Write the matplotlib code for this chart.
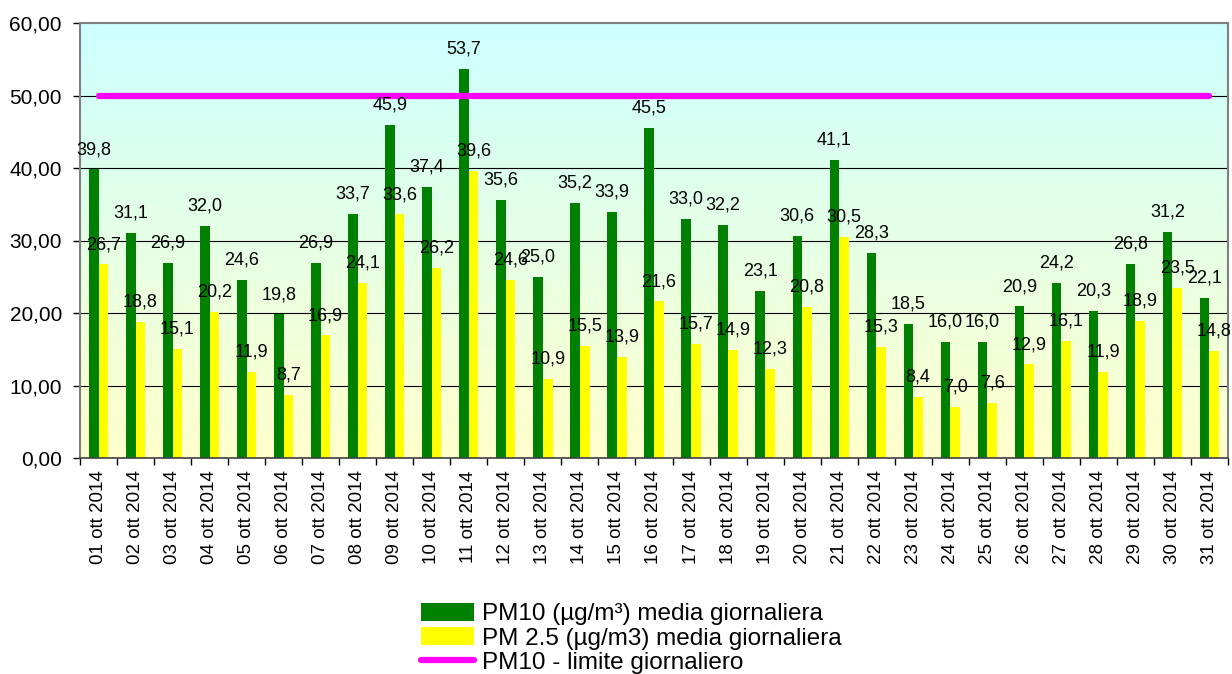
import matplotlib
matplotlib.use("Agg")
import matplotlib.pyplot as plt
import numpy as np
from matplotlib.patches import Patch
from matplotlib.lines import Line2D
from matplotlib.colors import LinearSegmentedColormap

dates = [f"{d:02d} ott 2014" for d in range(1, 32)]
pm10 = [39.8, 31.1, 26.9, 32.0, 24.6, 19.8, 26.9, 33.7, 45.9, 37.4, 53.7, 35.6, 25.0, 35.2, 33.9,
        45.5, 33.0, 32.2, 23.1, 30.6, 41.1, 28.3, 18.5, 16.0, 16.0, 20.9, 24.2, 20.3, 26.8, 31.2, 22.1]
pm25 = [26.7, 18.8, 15.1, 20.2, 11.9, 8.7, 16.9, 24.1, 33.6, 26.2, 39.6, 24.6, 10.9, 15.5, 13.9,
        21.6, 15.7, 14.9, 12.3, 20.8, 30.5, 15.3, 8.4, 7.0, 7.6, 12.9, 16.1, 11.9, 18.9, 23.5, 14.8]
limit = [50.0] * len(dates)
yticks = [0, 10, 20, 30, 40, 50, 60]

plt.rcParams['font.family'] = ['Liberation Sans', 'DejaVu Sans']

fig = plt.figure(figsize=(12.32, 6.74), dpi=100)
ax = fig.add_axes([80/1232, 1-458/674, (1228-80)/1232, (458-23)/674])

n = len(dates)
x = np.arange(n)
ax.set_xlim(-0.5, n-0.5)
ax.set_ylim(0, 60)

# gradient background
cmap = LinearSegmentedColormap.from_list("bg", ["#FFFFCC", "#CCFFFF"])
grad = np.linspace(0, 1, 256).reshape(-1, 1)
ax.imshow(grad, extent=(-0.5, n-0.5, 0, 60), origin='lower', aspect='auto', cmap=cmap, zorder=0)

for yv in yticks[1:-1]:
    ax.axhline(yv, color='black', lw=0.8, zorder=1)

w = 0.26
ax.bar(x - w/2, pm10, width=w, color='#008000', zorder=2)
ax.bar(x + w/2, pm25, width=w, color='#FFFF00', zorder=2)
ax.plot(x, limit, color='#FF00FF', lw=4.5, solid_capstyle='round', zorder=3)

def fmt(v):
    return f"{v:.1f}".replace('.', ',')

for i in range(n):
    ax.annotate(fmt(pm10[i]), (x[i] - w/2, pm10[i]), xytext=(0, 11), textcoords='offset points',
                ha='center', va='baseline', fontsize=13, zorder=4)
    ax.annotate(fmt(pm25[i]), (x[i] + w/2, pm25[i]), xytext=(0, 11), textcoords='offset points',
                ha='center', va='baseline', fontsize=13, zorder=4)

ax.set_yticks(yticks)
ax.set_yticklabels([f"{v:.2f}".replace('.', ',') for v in yticks], fontsize=15)
ax.tick_params(axis='y', length=5, width=1, pad=8, color='black')

ax.set_xticks(x)
ax.set_xticklabels(dates, rotation=90, fontsize=13.5)
ax.tick_params(axis='x', which='major', length=0, pad=9)
ax.set_xticks(np.arange(-0.5, n, 1), minor=True)
ax.tick_params(axis='x', which='minor', length=5, width=1, color='black')

for s in ['left', 'top', 'right']:
    ax.spines[s].set_color('#808080')
    ax.spines[s].set_linewidth(1.5)
ax.spines['bottom'].set_color('#404040')
ax.spines['bottom'].set_linewidth(1.2)

handles = [Patch(facecolor='#008000', edgecolor='none'),
           Patch(facecolor='#FFFF00', edgecolor='none'),
           Line2D([0], [0], color='#FF00FF', lw=4.5, solid_capstyle='round')]
labels = ["PM10 (µg/m³) media giornaliera",
          "PM 2.5 (µg/m3) media giornaliera",
          "PM10 - limite giornaliero"]
fig.legend(handles, labels, loc='upper left', bbox_to_anchor=(421/1232, 1-603/674),
           frameon=False, fontsize=17.5, borderpad=0, borderaxespad=0, handlelength=2.2,
           handleheight=0.75, handletextpad=0.33, labelspacing=0.08)

fig.savefig("out.png", dpi=100)
